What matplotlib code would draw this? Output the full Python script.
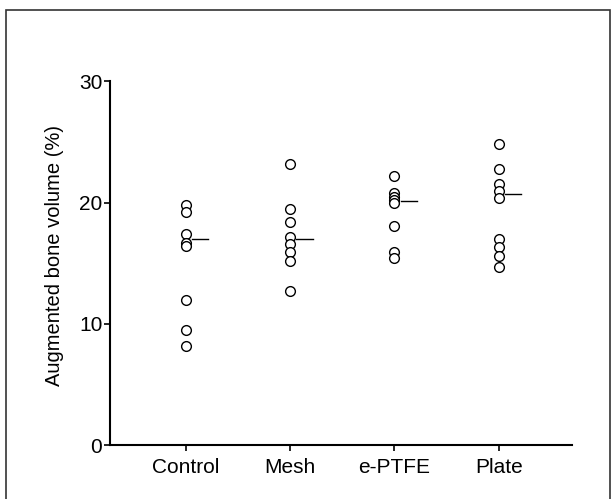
import matplotlib
matplotlib.use("Agg")
import matplotlib.pyplot as plt
from matplotlib.patches import Rectangle

plt.rcParams['font.family'] = ['Liberation Sans', 'DejaVu Sans']

# data
groups = ['Control', 'Mesh', 'e-PTFE', 'Plate']
control = [19.8, 19.2, 17.4, 16.7, 16.4, 12.0, 9.5, 8.2]
mesh = [23.2, 19.5, 18.4, 17.2, 16.55, 15.9, 15.2, 12.7]
eptfe = [22.2, 20.8, 20.5, 20.2, 20.0, 18.1, 15.9, 15.4]
plate = [24.8, 22.8, 21.5, 20.95, 20.4, 17.0, 16.3, 15.6, 14.65]
medians = [17.0, 17.0, 20.1, 20.7]

values = [control, mesh, eptfe, plate]

fig = plt.figure(figsize=(6.12, 4.99), dpi=100)
ax = fig.add_axes([0.1797, 0.1082, 0.7549, 0.7285])

for i, vals in enumerate(values):
    x = i + 1
    ax.plot([x] * len(vals), vals, 'o', mfc='white', mec='black',
            ms=7, mew=1.0, clip_on=False)
    ax.plot([x + 0.06, x + 0.215], [medians[i], medians[i]],
            color='black', lw=1)

ax.set_xlim(0.275, 4.70)
ax.set_ylim(0, 30)
ax.set_yticks([0, 10, 20, 30])
ax.set_xticks([1, 2, 3, 4])
ax.set_xticklabels(groups)
ax.set_ylabel('Augmented bone volume (%)', fontsize=14.5)
ax.yaxis.set_label_coords(-0.10, 0.52)
ax.tick_params(axis='both', labelsize=15, length=4, width=1.2, pad=1.5)
ax.tick_params(axis='x', pad=5)
for s in ['top', 'right']:
    ax.spines[s].set_visible(False)
for s in ['left', 'bottom']:
    ax.spines[s].set_linewidth(1.5)

# scanned frame around the figure
fig.patches.append(Rectangle((6 / 612, -0.05), 604 / 612, 1.05 - 10 / 499,
                             transform=fig.transFigure, fill=False,
                             edgecolor='#333333', lw=1.2))

fig.savefig('out.png', dpi=100)
